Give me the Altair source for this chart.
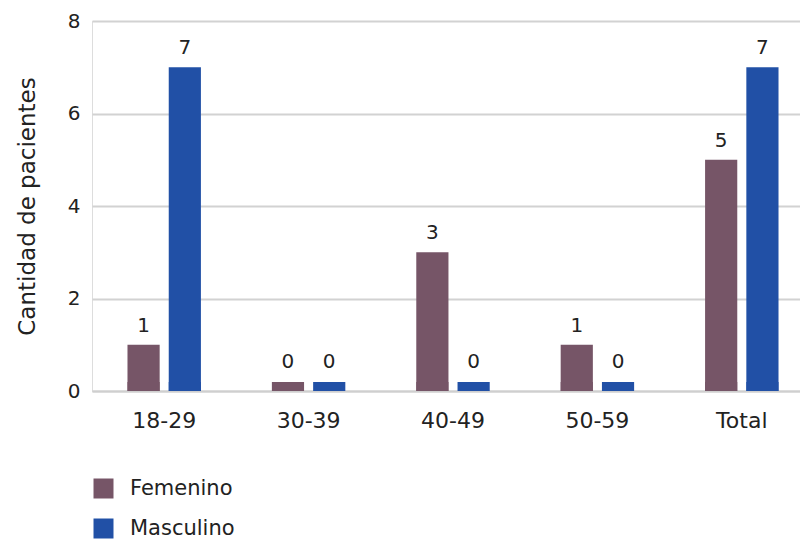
import altair as alt
import pandas as pd

# Patients per age group and sex
grupos = ["18-29", "30-39", "40-49", "50-59", "Total"]
femenino = [1, 0, 3, 1, 5]
masculino = [7, 0, 0, 0, 7]
sexos = ["Femenino", "Masculino"]
colores = ["#765567", "#2150A6"]

rows = []
for g, f, m in zip(grupos, femenino, masculino):
    rows.append({"grupo": g, "sexo": "Femenino", "valor": f})
    rows.append({"grupo": g, "sexo": "Masculino", "valor": m})
df = pd.DataFrame(rows)

FONT = "DejaVu Sans"
TXT = "#222222"

x_enc = alt.X(
    "grupo:N",
    sort=grupos,
    scale=alt.Scale(range=[0, 722], paddingInner=0, paddingOuter=0),
    axis=alt.Axis(
        title=None, labelAngle=0, ticks=False, tickSize=0, labelPadding=19,
        domain=True, domainColor="#cfcfcf", domainWidth=2, grid=False,
        labelFont=FONT, labelFontSize=22, labelColor=TXT,
    ),
)
xo_enc = alt.XOffset(
    "sexo:N", sort=sexos,
    scale=alt.Scale(paddingInner=0.22, paddingOuter=0.86),
)
color_enc = alt.Color(
    "sexo:N",
    sort=sexos,
    scale=alt.Scale(domain=sexos, range=colores),
    legend=alt.Legend(
        title=None, orient="none", legendX=1, legendY=457,
        symbolType="square", symbolSize=400, symbolStrokeWidth=0,
        labelFont=FONT, labelFontSize=21, labelColor=TXT,
        labelOffset=16, rowPadding=18, padding=0,
    ),
)
y_scale = alt.Scale(domain=[0, 8])

bars = alt.Chart(df).mark_bar().encode(
    x=x_enc,
    xOffset=xo_enc,
    y=alt.Y(
        "valor:Q",
        scale=y_scale,
        axis=alt.Axis(
            title="Cantidad de pacientes", values=[0, 2, 4, 6, 8],
            ticks=False, domain=False, grid=True, gridColor="#d2d2d2", gridWidth=2,
            labelFont=FONT, labelFontSize=20, labelColor=TXT, labelPadding=12,
            titleFont=FONT, titleFontSize=23, titleFontWeight="normal",
            titleColor=TXT, titlePadding=28,
        ),
    ),
    y2=alt.Y2(datum=0),
    color=color_enc,
)

# short stub at the baseline so that zero counts stay visible
stubs = alt.Chart(df).mark_bar(yOffset=-9).encode(
    x=x_enc,
    xOffset=xo_enc,
    y=alt.Y(datum=0, scale=y_scale),
    y2=alt.Y2(datum=0),
    color=color_enc,
)

labels_pos = alt.Chart(df).transform_filter(alt.datum.valor > 0).mark_text(
    baseline="bottom", dy=-9, font=FONT, fontSize=20, color=TXT,
).encode(
    x=x_enc, xOffset=xo_enc,
    y=alt.Y("valor:Q", scale=y_scale),
    text="valor:Q",
)

labels_zero = alt.Chart(df).transform_filter(alt.datum.valor == 0).mark_text(
    baseline="bottom", dy=-19, font=FONT, fontSize=20, color=TXT,
).encode(
    x=x_enc, xOffset=xo_enc,
    y=alt.Y("valor:Q", scale=y_scale),
    text="valor:Q",
)

chart = (
    alt.layer(stubs, bars, labels_pos, labels_zero)
    .properties(
        width=708, height=370,
        padding={"left": 92, "top": 21, "right": 0, "bottom": 148},
        autosize=alt.AutoSizeParams(type="none"),
    )
    .configure_view(stroke=None)
    .configure(background="white")
)

chart.save("out.html", embed_options={"renderer": "svg", "actions": False})
